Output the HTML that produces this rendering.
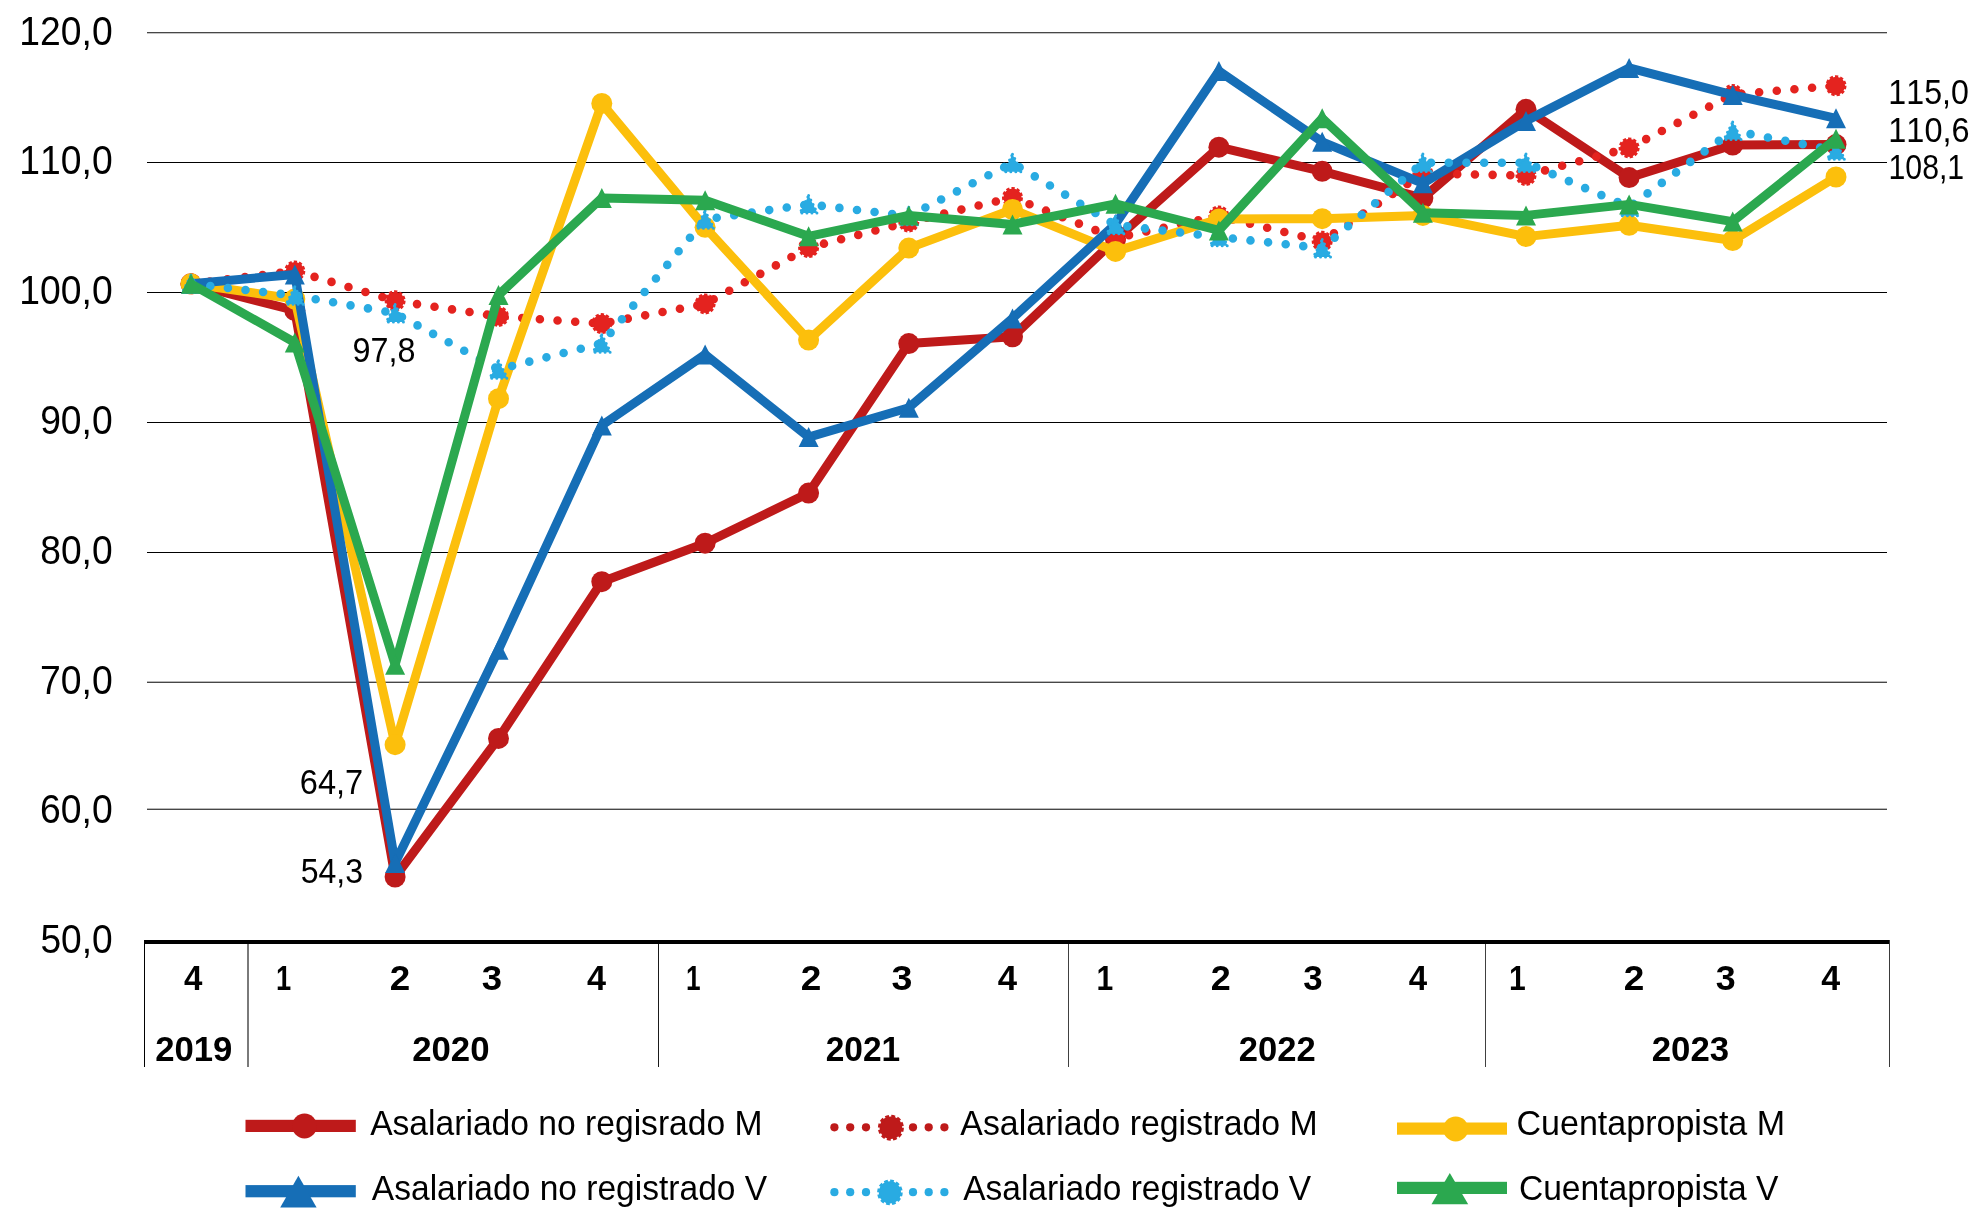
<!DOCTYPE html>
<html><head><meta charset="utf-8"><title>Chart</title>
<style>
html,body{margin:0;padding:0;background:#fff;}
body{width:1969px;height:1223px;overflow:hidden;}
svg{display:block;will-change:transform;font-family:"Liberation Sans",Arial,sans-serif;font-kerning:none;}
</style></head><body>
<svg width="1969" height="1223" viewBox="0 0 1969 1223">
<rect width="100%" height="100%" fill="#fff"/>
<rect x="147" y="32" width="1740" height="1" fill="#474747"/>
<rect x="147" y="33" width="1740" height="1" fill="#c4c4c4"/>
<rect x="147" y="162" width="1740" height="1" fill="#000"/>
<rect x="147" y="292" width="1740" height="1" fill="#000"/>
<rect x="147" y="422" width="1740" height="1" fill="#000"/>
<rect x="147" y="552" width="1740" height="1" fill="#000"/>
<rect x="147" y="681" width="1740" height="1" fill="#b8b8b8"/>
<rect x="147" y="682" width="1740" height="1" fill="#474747"/>
<rect x="147" y="808" width="1740" height="1" fill="#b8b8b8"/>
<rect x="147" y="809" width="1740" height="1" fill="#474747"/>
<rect x="144" y="940" width="1746" height="4" fill="#000"/>
<rect x="144" y="940" width="1" height="127" fill="#000"/>
<rect x="247" y="944" width="2" height="123" fill="#7a7a7a"/>
<rect x="658" y="944" width="1" height="123" fill="#1a1a1a"/>
<rect x="1068" y="944" width="1" height="123" fill="#404040"/>
<rect x="1485" y="944" width="1" height="123" fill="#404040"/>
<rect x="1889" y="940" width="1" height="127" fill="#3a3a3a"/>
<text x="19.36" y="44.50" font-size="40.53" font-weight="normal" textLength="93.30" lengthAdjust="spacingAndGlyphs" fill="#000">120,0</text>
<text x="19.36" y="174.30" font-size="40.53" font-weight="normal" textLength="93.30" lengthAdjust="spacingAndGlyphs" fill="#000">110,0</text>
<text x="19.36" y="304.10" font-size="40.53" font-weight="normal" textLength="93.30" lengthAdjust="spacingAndGlyphs" fill="#000">100,0</text>
<text x="40.15" y="433.90" font-size="40.53" font-weight="normal" textLength="72.50" lengthAdjust="spacingAndGlyphs" fill="#000">90,0</text>
<text x="40.28" y="563.70" font-size="40.53" font-weight="normal" textLength="72.37" lengthAdjust="spacingAndGlyphs" fill="#000">80,0</text>
<text x="39.99" y="693.50" font-size="40.53" font-weight="normal" textLength="72.67" lengthAdjust="spacingAndGlyphs" fill="#000">70,0</text>
<text x="40.00" y="823.30" font-size="40.53" font-weight="normal" textLength="72.65" lengthAdjust="spacingAndGlyphs" fill="#000">60,0</text>
<text x="40.41" y="953.10" font-size="40.53" font-weight="normal" textLength="72.24" lengthAdjust="spacingAndGlyphs" fill="#000">50,0</text>
<polyline points="191.0,283.8 294.8,310.5 395.1,877.0 498.5,738.4 601.8,581.7 705.1,543.2 808.6,493.1 908.8,343.6 1012.5,336.8 1115.5,239.5 1218.9,147.2 1322.2,171.3 1422.9,198.0 1526.0,109.3 1629.1,177.6 1732.7,145.0 1836.0,144.6" fill="none" stroke="#BE1A1A" stroke-width="9" stroke-linejoin="round"/>
<circle cx="191.0" cy="283.8" r="10.5" fill="#BE1A1A"/>
<circle cx="294.8" cy="310.5" r="10.5" fill="#BE1A1A"/>
<circle cx="395.1" cy="877.0" r="10.5" fill="#BE1A1A"/>
<circle cx="498.5" cy="738.4" r="10.5" fill="#BE1A1A"/>
<circle cx="601.8" cy="581.7" r="10.5" fill="#BE1A1A"/>
<circle cx="705.1" cy="543.2" r="10.5" fill="#BE1A1A"/>
<circle cx="808.6" cy="493.1" r="10.5" fill="#BE1A1A"/>
<circle cx="908.8" cy="343.6" r="10.5" fill="#BE1A1A"/>
<circle cx="1012.5" cy="336.8" r="10.5" fill="#BE1A1A"/>
<circle cx="1115.5" cy="239.5" r="10.5" fill="#BE1A1A"/>
<circle cx="1218.9" cy="147.2" r="10.5" fill="#BE1A1A"/>
<circle cx="1322.2" cy="171.3" r="10.5" fill="#BE1A1A"/>
<circle cx="1422.9" cy="198.0" r="10.5" fill="#BE1A1A"/>
<circle cx="1526.0" cy="109.3" r="10.5" fill="#BE1A1A"/>
<circle cx="1629.1" cy="177.6" r="10.5" fill="#BE1A1A"/>
<circle cx="1732.7" cy="145.0" r="10.5" fill="#BE1A1A"/>
<circle cx="1836.0" cy="144.6" r="10.5" fill="#BE1A1A"/>
<polyline points="191.0,283.8 294.8,271.0 395.1,300.8 498.5,316.4 601.8,323.6 705.1,303.9 808.6,247.6 908.8,222.0 1012.5,197.5 1115.5,238.0 1218.9,216.0 1322.2,241.3 1422.9,173.5 1526.0,175.5 1629.1,147.9 1732.7,94.5 1836.0,85.8" fill="none" stroke="#E4231F" stroke-width="8.6" stroke-linecap="round" stroke-linejoin="round" stroke-dasharray="0 17.7" stroke-dashoffset="-1.28"/>
<circle cx="191.0" cy="283.8" r="9.1" fill="#E4231F" stroke="#E4231F" stroke-width="2.8" stroke-dasharray="3.2 2"/>
<circle cx="294.8" cy="271.0" r="9.1" fill="#E4231F" stroke="#E4231F" stroke-width="2.8" stroke-dasharray="3.2 2"/>
<circle cx="395.1" cy="300.8" r="9.1" fill="#E4231F" stroke="#E4231F" stroke-width="2.8" stroke-dasharray="3.2 2"/>
<circle cx="498.5" cy="316.4" r="9.1" fill="#E4231F" stroke="#E4231F" stroke-width="2.8" stroke-dasharray="3.2 2"/>
<circle cx="601.8" cy="323.6" r="9.1" fill="#E4231F" stroke="#E4231F" stroke-width="2.8" stroke-dasharray="3.2 2"/>
<circle cx="705.1" cy="303.9" r="9.1" fill="#E4231F" stroke="#E4231F" stroke-width="2.8" stroke-dasharray="3.2 2"/>
<circle cx="808.6" cy="247.6" r="9.1" fill="#E4231F" stroke="#E4231F" stroke-width="2.8" stroke-dasharray="3.2 2"/>
<circle cx="908.8" cy="222.0" r="9.1" fill="#E4231F" stroke="#E4231F" stroke-width="2.8" stroke-dasharray="3.2 2"/>
<circle cx="1012.5" cy="197.5" r="9.1" fill="#E4231F" stroke="#E4231F" stroke-width="2.8" stroke-dasharray="3.2 2"/>
<circle cx="1115.5" cy="238.0" r="9.1" fill="#E4231F" stroke="#E4231F" stroke-width="2.8" stroke-dasharray="3.2 2"/>
<circle cx="1218.9" cy="216.0" r="9.1" fill="#E4231F" stroke="#E4231F" stroke-width="2.8" stroke-dasharray="3.2 2"/>
<circle cx="1322.2" cy="241.3" r="9.1" fill="#E4231F" stroke="#E4231F" stroke-width="2.8" stroke-dasharray="3.2 2"/>
<circle cx="1422.9" cy="173.5" r="9.1" fill="#E4231F" stroke="#E4231F" stroke-width="2.8" stroke-dasharray="3.2 2"/>
<circle cx="1526.0" cy="175.5" r="9.1" fill="#E4231F" stroke="#E4231F" stroke-width="2.8" stroke-dasharray="3.2 2"/>
<circle cx="1629.1" cy="147.9" r="9.1" fill="#E4231F" stroke="#E4231F" stroke-width="2.8" stroke-dasharray="3.2 2"/>
<circle cx="1732.7" cy="94.5" r="9.1" fill="#E4231F" stroke="#E4231F" stroke-width="2.8" stroke-dasharray="3.2 2"/>
<circle cx="1836.0" cy="85.8" r="9.1" fill="#E4231F" stroke="#E4231F" stroke-width="2.8" stroke-dasharray="3.2 2"/>
<polyline points="191.0,283.8 294.8,299.0 395.1,744.7 498.5,398.7 601.8,103.4 705.1,227.3 808.6,340.0 908.8,248.1 1012.5,209.5 1115.5,251.4 1218.9,219.0 1322.2,218.7 1422.9,215.4 1526.0,236.6 1629.1,225.3 1732.7,240.5 1836.0,177.0" fill="none" stroke="#FCBF0C" stroke-width="9" stroke-linejoin="round"/>
<circle cx="191.0" cy="283.8" r="10.5" fill="#FCBF0C"/>
<circle cx="294.8" cy="299.0" r="10.5" fill="#FCBF0C"/>
<circle cx="395.1" cy="744.7" r="10.5" fill="#FCBF0C"/>
<circle cx="498.5" cy="398.7" r="10.5" fill="#FCBF0C"/>
<circle cx="601.8" cy="103.4" r="10.5" fill="#FCBF0C"/>
<circle cx="705.1" cy="227.3" r="10.5" fill="#FCBF0C"/>
<circle cx="808.6" cy="340.0" r="10.5" fill="#FCBF0C"/>
<circle cx="908.8" cy="248.1" r="10.5" fill="#FCBF0C"/>
<circle cx="1012.5" cy="209.5" r="10.5" fill="#FCBF0C"/>
<circle cx="1115.5" cy="251.4" r="10.5" fill="#FCBF0C"/>
<circle cx="1218.9" cy="219.0" r="10.5" fill="#FCBF0C"/>
<circle cx="1322.2" cy="218.7" r="10.5" fill="#FCBF0C"/>
<circle cx="1422.9" cy="215.4" r="10.5" fill="#FCBF0C"/>
<circle cx="1526.0" cy="236.6" r="10.5" fill="#FCBF0C"/>
<circle cx="1629.1" cy="225.3" r="10.5" fill="#FCBF0C"/>
<circle cx="1732.7" cy="240.5" r="10.5" fill="#FCBF0C"/>
<circle cx="1836.0" cy="177.0" r="10.5" fill="#FCBF0C"/>
<polyline points="191.0,283.8 294.8,274.4 395.1,863.0 498.5,649.7 601.8,425.4 705.1,354.5 808.6,437.1 908.8,407.7 1012.5,318.4 1115.5,224.0 1218.9,71.0 1322.2,141.8 1422.9,183.3 1526.0,120.9 1629.1,67.9 1732.7,94.9 1836.0,118.3" fill="none" stroke="#166EB6" stroke-width="9" stroke-linejoin="round"/>
<polygon points="191.00,273.80 201.00,293.80 181.00,293.80" fill="#166EB6"/>
<polygon points="294.80,264.40 304.80,284.40 284.80,284.40" fill="#166EB6"/>
<polygon points="395.10,853.00 405.10,873.00 385.10,873.00" fill="#166EB6"/>
<polygon points="498.50,639.70 508.50,659.70 488.50,659.70" fill="#166EB6"/>
<polygon points="601.80,415.40 611.80,435.40 591.80,435.40" fill="#166EB6"/>
<polygon points="705.10,344.50 715.10,364.50 695.10,364.50" fill="#166EB6"/>
<polygon points="808.60,427.10 818.60,447.10 798.60,447.10" fill="#166EB6"/>
<polygon points="908.80,397.70 918.80,417.70 898.80,417.70" fill="#166EB6"/>
<polygon points="1012.50,308.40 1022.50,328.40 1002.50,328.40" fill="#166EB6"/>
<polygon points="1115.50,214.00 1125.50,234.00 1105.50,234.00" fill="#166EB6"/>
<polygon points="1218.90,61.00 1228.90,81.00 1208.90,81.00" fill="#166EB6"/>
<polygon points="1322.20,131.80 1332.20,151.80 1312.20,151.80" fill="#166EB6"/>
<polygon points="1422.90,173.30 1432.90,193.30 1412.90,193.30" fill="#166EB6"/>
<polygon points="1526.00,110.90 1536.00,130.90 1516.00,130.90" fill="#166EB6"/>
<polygon points="1629.10,57.90 1639.10,77.90 1619.10,77.90" fill="#166EB6"/>
<polygon points="1732.70,84.90 1742.70,104.90 1722.70,104.90" fill="#166EB6"/>
<polygon points="1836.00,108.30 1846.00,128.30 1826.00,128.30" fill="#166EB6"/>
<polyline points="191.0,283.8 294.8,295.5 395.1,313.2 498.5,369.4 601.8,343.4 705.1,219.5 808.6,204.3 908.8,216.0 1012.5,162.9 1115.5,225.0 1218.9,237.0 1322.2,248.2 1422.9,162.7 1526.0,162.7 1629.1,207.0 1732.7,130.7 1836.0,150.5" fill="none" stroke="#29ABE2" stroke-width="8.6" stroke-linecap="round" stroke-linejoin="round" stroke-dasharray="0 17.7" stroke-dashoffset="-1.75"/>
<polygon points="191.00,275.05 199.75,292.55 182.25,292.55" fill="#29ABE2" stroke="#29ABE2" stroke-width="3" stroke-linecap="round" stroke-linejoin="round" stroke-dasharray="0 5"/>
<polygon points="294.80,286.75 303.55,304.25 286.05,304.25" fill="#29ABE2" stroke="#29ABE2" stroke-width="3" stroke-linecap="round" stroke-linejoin="round" stroke-dasharray="0 5"/>
<polygon points="395.10,304.45 403.85,321.95 386.35,321.95" fill="#29ABE2" stroke="#29ABE2" stroke-width="3" stroke-linecap="round" stroke-linejoin="round" stroke-dasharray="0 5"/>
<polygon points="498.50,360.65 507.25,378.15 489.75,378.15" fill="#29ABE2" stroke="#29ABE2" stroke-width="3" stroke-linecap="round" stroke-linejoin="round" stroke-dasharray="0 5"/>
<polygon points="601.80,334.65 610.55,352.15 593.05,352.15" fill="#29ABE2" stroke="#29ABE2" stroke-width="3" stroke-linecap="round" stroke-linejoin="round" stroke-dasharray="0 5"/>
<polygon points="705.10,210.75 713.85,228.25 696.35,228.25" fill="#29ABE2" stroke="#29ABE2" stroke-width="3" stroke-linecap="round" stroke-linejoin="round" stroke-dasharray="0 5"/>
<polygon points="808.60,195.55 817.35,213.05 799.85,213.05" fill="#29ABE2" stroke="#29ABE2" stroke-width="3" stroke-linecap="round" stroke-linejoin="round" stroke-dasharray="0 5"/>
<polygon points="908.80,207.25 917.55,224.75 900.05,224.75" fill="#29ABE2" stroke="#29ABE2" stroke-width="3" stroke-linecap="round" stroke-linejoin="round" stroke-dasharray="0 5"/>
<polygon points="1012.50,154.15 1021.25,171.65 1003.75,171.65" fill="#29ABE2" stroke="#29ABE2" stroke-width="3" stroke-linecap="round" stroke-linejoin="round" stroke-dasharray="0 5"/>
<polygon points="1115.50,216.25 1124.25,233.75 1106.75,233.75" fill="#29ABE2" stroke="#29ABE2" stroke-width="3" stroke-linecap="round" stroke-linejoin="round" stroke-dasharray="0 5"/>
<polygon points="1218.90,228.25 1227.65,245.75 1210.15,245.75" fill="#29ABE2" stroke="#29ABE2" stroke-width="3" stroke-linecap="round" stroke-linejoin="round" stroke-dasharray="0 5"/>
<polygon points="1322.20,239.45 1330.95,256.95 1313.45,256.95" fill="#29ABE2" stroke="#29ABE2" stroke-width="3" stroke-linecap="round" stroke-linejoin="round" stroke-dasharray="0 5"/>
<polygon points="1422.90,153.95 1431.65,171.45 1414.15,171.45" fill="#29ABE2" stroke="#29ABE2" stroke-width="3" stroke-linecap="round" stroke-linejoin="round" stroke-dasharray="0 5"/>
<polygon points="1526.00,153.95 1534.75,171.45 1517.25,171.45" fill="#29ABE2" stroke="#29ABE2" stroke-width="3" stroke-linecap="round" stroke-linejoin="round" stroke-dasharray="0 5"/>
<polygon points="1629.10,198.25 1637.85,215.75 1620.35,215.75" fill="#29ABE2" stroke="#29ABE2" stroke-width="3" stroke-linecap="round" stroke-linejoin="round" stroke-dasharray="0 5"/>
<polygon points="1732.70,121.95 1741.45,139.45 1723.95,139.45" fill="#29ABE2" stroke="#29ABE2" stroke-width="3" stroke-linecap="round" stroke-linejoin="round" stroke-dasharray="0 5"/>
<polygon points="1836.00,141.75 1844.75,159.25 1827.25,159.25" fill="#29ABE2" stroke="#29ABE2" stroke-width="3" stroke-linecap="round" stroke-linejoin="round" stroke-dasharray="0 5"/>
<polyline points="191.0,283.8 294.8,342.5 395.1,664.7 498.5,295.1 601.8,198.0 705.1,200.3 808.6,236.3 908.8,215.5 1012.5,224.4 1115.5,203.8 1218.9,230.4 1322.2,118.2 1422.9,212.8 1526.0,215.4 1629.1,204.4 1732.7,221.6 1836.0,138.8" fill="none" stroke="#2BA84F" stroke-width="9" stroke-linejoin="round"/>
<polygon points="191.00,273.80 201.00,293.80 181.00,293.80" fill="#2BA84F"/>
<polygon points="294.80,332.50 304.80,352.50 284.80,352.50" fill="#2BA84F"/>
<polygon points="395.10,654.70 405.10,674.70 385.10,674.70" fill="#2BA84F"/>
<polygon points="498.50,285.10 508.50,305.10 488.50,305.10" fill="#2BA84F"/>
<polygon points="601.80,188.00 611.80,208.00 591.80,208.00" fill="#2BA84F"/>
<polygon points="705.10,190.30 715.10,210.30 695.10,210.30" fill="#2BA84F"/>
<polygon points="808.60,226.30 818.60,246.30 798.60,246.30" fill="#2BA84F"/>
<polygon points="908.80,205.50 918.80,225.50 898.80,225.50" fill="#2BA84F"/>
<polygon points="1012.50,214.40 1022.50,234.40 1002.50,234.40" fill="#2BA84F"/>
<polygon points="1115.50,193.80 1125.50,213.80 1105.50,213.80" fill="#2BA84F"/>
<polygon points="1218.90,220.40 1228.90,240.40 1208.90,240.40" fill="#2BA84F"/>
<polygon points="1322.20,108.20 1332.20,128.20 1312.20,128.20" fill="#2BA84F"/>
<polygon points="1422.90,202.80 1432.90,222.80 1412.90,222.80" fill="#2BA84F"/>
<polygon points="1526.00,205.40 1536.00,225.40 1516.00,225.40" fill="#2BA84F"/>
<polygon points="1629.10,194.40 1639.10,214.40 1619.10,214.40" fill="#2BA84F"/>
<polygon points="1732.70,211.60 1742.70,231.60 1722.70,231.60" fill="#2BA84F"/>
<polygon points="1836.00,128.80 1846.00,148.80 1826.00,148.80" fill="#2BA84F"/>
<text x="352.58" y="361.90" font-size="34.37" font-weight="normal" textLength="62.92" lengthAdjust="spacingAndGlyphs" fill="#000">97,8</text>
<text x="299.85" y="794.10" font-size="34.37" font-weight="normal" textLength="63.39" lengthAdjust="spacingAndGlyphs" fill="#000">64,7</text>
<text x="300.72" y="883.10" font-size="34.37" font-weight="normal" textLength="62.29" lengthAdjust="spacingAndGlyphs" fill="#000">54,3</text>
<text x="1888.35" y="103.90" font-size="34.94" font-weight="normal" textLength="80.51" lengthAdjust="spacingAndGlyphs" fill="#000">115,0</text>
<text x="1888.33" y="141.90" font-size="34.52" font-weight="normal" textLength="81.20" lengthAdjust="spacingAndGlyphs" fill="#000">110,6</text>
<text x="1888.50" y="178.90" font-size="34.37" font-weight="normal" textLength="75.68" lengthAdjust="spacingAndGlyphs" fill="#000">108,1</text>
<text x="183.90" y="990.20" font-size="35.18" font-weight="bold" textLength="18.38" lengthAdjust="spacingAndGlyphs" fill="#000">4</text>
<text x="276.08" y="990.20" font-size="35.18" font-weight="bold" textLength="15.18" lengthAdjust="spacingAndGlyphs" fill="#000">1</text>
<text x="389.73" y="990.20" font-size="34.66" font-weight="bold" textLength="20.45" lengthAdjust="spacingAndGlyphs" fill="#000">2</text>
<text x="481.66" y="990.20" font-size="34.66" font-weight="bold" textLength="20.36" lengthAdjust="spacingAndGlyphs" fill="#000">3</text>
<text x="587.08" y="990.20" font-size="35.18" font-weight="bold" textLength="19.00" lengthAdjust="spacingAndGlyphs" fill="#000">4</text>
<text x="685.95" y="990.20" font-size="35.18" font-weight="bold" textLength="14.58" lengthAdjust="spacingAndGlyphs" fill="#000">1</text>
<text x="800.82" y="990.20" font-size="34.66" font-weight="bold" textLength="20.56" lengthAdjust="spacingAndGlyphs" fill="#000">2</text>
<text x="891.44" y="990.20" font-size="34.66" font-weight="bold" textLength="20.92" lengthAdjust="spacingAndGlyphs" fill="#000">3</text>
<text x="997.87" y="990.20" font-size="35.18" font-weight="bold" textLength="19.31" lengthAdjust="spacingAndGlyphs" fill="#000">4</text>
<text x="1096.50" y="990.20" font-size="35.18" font-weight="bold" textLength="16.73" lengthAdjust="spacingAndGlyphs" fill="#000">1</text>
<text x="1210.75" y="990.20" font-size="34.66" font-weight="bold" textLength="19.98" lengthAdjust="spacingAndGlyphs" fill="#000">2</text>
<text x="1303.20" y="990.20" font-size="34.66" font-weight="bold" textLength="19.36" lengthAdjust="spacingAndGlyphs" fill="#000">3</text>
<text x="1408.70" y="990.20" font-size="35.18" font-weight="bold" textLength="18.38" lengthAdjust="spacingAndGlyphs" fill="#000">4</text>
<text x="1509.10" y="990.20" font-size="35.18" font-weight="bold" textLength="16.73" lengthAdjust="spacingAndGlyphs" fill="#000">1</text>
<text x="1623.72" y="990.20" font-size="34.66" font-weight="bold" textLength="20.56" lengthAdjust="spacingAndGlyphs" fill="#000">2</text>
<text x="1715.78" y="990.20" font-size="34.66" font-weight="bold" textLength="19.92" lengthAdjust="spacingAndGlyphs" fill="#000">3</text>
<text x="1821.29" y="990.20" font-size="35.18" font-weight="bold" textLength="18.90" lengthAdjust="spacingAndGlyphs" fill="#000">4</text>
<text x="155.20" y="1060.80" font-size="34.37" font-weight="bold" textLength="77.19" lengthAdjust="spacingAndGlyphs" fill="#000">2019</text>
<text x="412.19" y="1060.80" font-size="34.37" font-weight="bold" textLength="77.33" lengthAdjust="spacingAndGlyphs" fill="#000">2020</text>
<text x="825.74" y="1060.80" font-size="34.37" font-weight="bold" textLength="74.49" lengthAdjust="spacingAndGlyphs" fill="#000">2021</text>
<text x="1238.80" y="1060.80" font-size="34.37" font-weight="bold" textLength="76.88" lengthAdjust="spacingAndGlyphs" fill="#000">2022</text>
<text x="1651.79" y="1060.80" font-size="34.37" font-weight="bold" textLength="77.36" lengthAdjust="spacingAndGlyphs" fill="#000">2023</text>
<rect x="245.5" y="1119.80" width="110.30" height="12.2" fill="#BE1A1A"/>
<circle cx="304.5" cy="1126" r="12.4" fill="#BE1A1A"/>
<rect x="245.5" y="1185.10" width="110.30" height="12.2" fill="#166EB6"/>
<polygon points="298.4,1175.7 316.6,1207.4 280.2,1207.4" fill="#166EB6"/>
<rect x="1397" y="1122.50" width="110.00" height="12.2" fill="#FCBF0C"/>
<circle cx="1455.7" cy="1128.9" r="12.5" fill="#FCBF0C"/>
<rect x="1397" y="1181.80" width="110.00" height="12.2" fill="#2BA84F"/>
<polygon points="1449.8,1172.9 1468.2,1204.3 1431.5,1204.3" fill="#2BA84F"/>
<circle cx="834.4" cy="1127.3" r="4.1" fill="#BE1A1A"/>
<circle cx="834.4" cy="1192.2" r="4.1" fill="#29ABE2"/>
<circle cx="850.2" cy="1127.3" r="4.1" fill="#BE1A1A"/>
<circle cx="850.2" cy="1192.2" r="4.1" fill="#29ABE2"/>
<circle cx="866.0" cy="1127.3" r="4.1" fill="#BE1A1A"/>
<circle cx="866.0" cy="1192.2" r="4.1" fill="#29ABE2"/>
<circle cx="913.0" cy="1127.3" r="4.1" fill="#BE1A1A"/>
<circle cx="913.0" cy="1192.2" r="4.1" fill="#29ABE2"/>
<circle cx="928.7" cy="1127.3" r="4.1" fill="#BE1A1A"/>
<circle cx="928.7" cy="1192.2" r="4.1" fill="#29ABE2"/>
<circle cx="944.4" cy="1127.3" r="4.1" fill="#BE1A1A"/>
<circle cx="944.4" cy="1192.2" r="4.1" fill="#29ABE2"/>
<circle cx="890.9" cy="1127.8" r="11.3" fill="#BE1A1A" stroke="#BE1A1A" stroke-width="3.4" stroke-linejoin="round" stroke-dasharray="3.7 2.22"/>
<circle cx="889.9" cy="1192.4" r="11.1" fill="#29ABE2" stroke="#29ABE2" stroke-width="3.4" stroke-dasharray="3.6 2.2"/>
<text x="370.13" y="1135.00" font-size="35.32" font-weight="normal" textLength="392.42" lengthAdjust="spacingAndGlyphs" fill="#000">Asalariado no regisrado M</text>
<text x="371.83" y="1200.00" font-size="35.32" font-weight="normal" textLength="395.31" lengthAdjust="spacingAndGlyphs" fill="#000">Asalariado no registrado V</text>
<text x="960.33" y="1135.30" font-size="35.32" font-weight="normal" textLength="357.44" lengthAdjust="spacingAndGlyphs" fill="#000">Asalariado registrado M</text>
<text x="963.23" y="1200.00" font-size="35.32" font-weight="normal" textLength="347.91" lengthAdjust="spacingAndGlyphs" fill="#000">Asalariado registrado V</text>
<text x="1516.47" y="1135.30" font-size="35.32" font-weight="normal" textLength="268.62" lengthAdjust="spacingAndGlyphs" fill="#000">Cuentapropista M</text>
<text x="1518.89" y="1200.00" font-size="35.32" font-weight="normal" textLength="259.65" lengthAdjust="spacingAndGlyphs" fill="#000">Cuentapropista V</text>
</svg>
</body></html>
